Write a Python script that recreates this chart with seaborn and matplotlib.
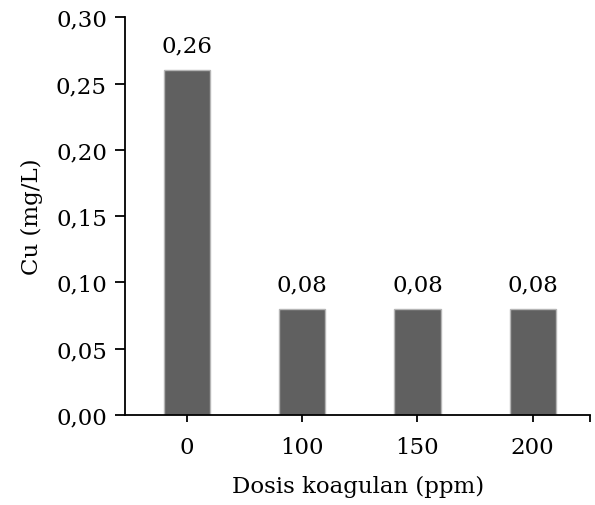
import matplotlib
matplotlib.use("Agg")
import matplotlib.pyplot as plt
import seaborn as sns
import pandas as pd
from matplotlib.ticker import FixedLocator, FuncFormatter

dosis = ["0", "100", "150", "200"]
cu = [0.26, 0.08, 0.08, 0.08]

sns.set_theme(style="ticks")
plt.rcParams["font.family"] = ["DejaVu Serif"]
plt.rcParams["text.color"] = "black"
plt.rcParams["axes.labelcolor"] = "black"

df = pd.DataFrame({"dosis": dosis, "cu": cu})

fig = plt.figure(figsize=(5.95, 5.06), dpi=100)
ax = fig.add_axes([0.210, 0.178, 0.782, 0.786])

sns.barplot(data=df, x="dosis", y="cu", order=dosis, color="#606060",
            saturation=1, width=0.4, edgecolor="#b5b5b5", linewidth=1, ax=ax)

ax.set_xlim(-0.54, 3.5)
ax.set_ylim(0, 0.30)
ax.set_yticks([0, 0.05, 0.10, 0.15, 0.20, 0.25, 0.30])
ax.yaxis.set_major_formatter(FuncFormatter(lambda v, p: f"{v:.2f}".replace(".", ",")))
ax.xaxis.set_minor_locator(FixedLocator([3.5]))

for spine in ("top", "right"):
    ax.spines[spine].set_visible(False)
for spine in ("left", "bottom"):
    ax.spines[spine].set_linewidth(1.3)
    ax.spines[spine].set_color("black")

fs = 16.5
ax.tick_params(axis="y", direction="out", length=7, width=1.3, labelsize=fs, pad=6,
               colors="black", labelcolor="black")
ax.tick_params(axis="x", which="both", direction="out", length=5, width=1.3, labelsize=fs,
               pad=10, colors="black", labelcolor="black")

ax.set_xlabel("Dosis koagulan (ppm)", fontsize=fs, labelpad=12)
ax.set_ylabel("Cu (mg/L)", fontsize=fs, labelpad=9)

for container in ax.containers:
    ax.bar_label(container, labels=[f"{v:.2f}".replace(".", ",") for v in cu],
                 padding=10, fontsize=fs, color="black")

fig.savefig("out.png", dpi=100)
